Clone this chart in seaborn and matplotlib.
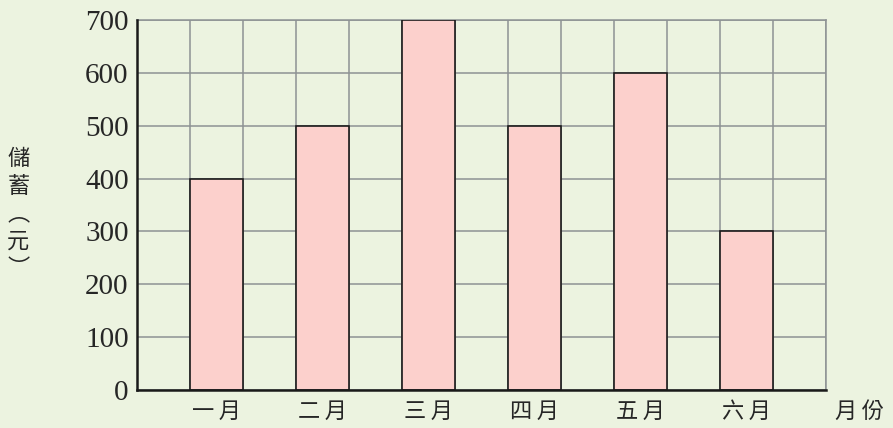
import matplotlib
matplotlib.use("Agg")
import matplotlib.pyplot as plt
import seaborn as sns
import pandas as pd

months = ["一\u2009月", "二\u2009月", "三\u2009月", "四\u2009月", "五\u2009月", "六\u2009月"]
savings = [400, 500, 700, 500, 600, 300]
y_ticks = [0, 100, 200, 300, 400, 500, 600, 700]
y_label = "儲\n蓄\n︵\n元\n︶"
x_label = "月\u2009份"

sns.set_theme(style="white")
plt.rcParams['font.family'] = ['Noto Sans CJK TC', 'DejaVu Sans']

bg = "#ECF3E0"
fig = plt.figure(figsize=(8.93, 4.28), dpi=100, facecolor=bg)
ax = fig.add_axes([137/893, 1-390/428, 689/893, 370/428])
ax.set_facecolor(bg)

pos = [2 * i + 1.5 for i in range(len(months))]
df = pd.DataFrame({"pos": pos, "value": savings, "month": months})
sns.barplot(data=df, x="pos", y="value", native_scale=True, width=0.5,
            color="#FCD0CC", saturation=1, edgecolor="#1a1a1a", linewidth=1.2,
            ax=ax, zorder=3)

ax.set_xlim(0, 13)
ax.set_ylim(0, 700)
ax.set_xticks(range(0, 14))
ax.set_xticklabels([])
ax.set_xticks(pos, minor=True)
ax.set_xticklabels(months, minor=True, fontsize=16)
ax.set_yticks(y_ticks)
ax.set_yticklabels([str(v) for v in y_ticks], family=['Liberation Serif'], fontsize=21)
ax.tick_params(axis='both', which='both', length=0)
ax.tick_params(axis='y', pad=6)
ax.tick_params(axis='x', which='minor', pad=7)
ax.grid(True, which='major', color="#8E9294", linewidth=1.1, zorder=0)
ax.set_axisbelow(True)

for s in ["left", "bottom"]:
    ax.spines[s].set_color("#1a1a1a")
    ax.spines[s].set_linewidth(1.8)
    ax.spines[s].set_zorder(5)
for s in ["top", "right"]:
    ax.spines[s].set_color("#8E9294")
    ax.spines[s].set_linewidth(1.1)

ax.set_xlabel(x_label, fontsize=16)
ax.xaxis.set_label_coords(1.049, -0.058)
ax.xaxis.label.set_va("center")
ax.set_ylabel(y_label, fontsize=16, rotation=0, linespacing=1.25)
ax.yaxis.set_label_coords(-0.172, 0.476)
ax.yaxis.label.set_va("center")
ax.yaxis.label.set_ha("center")

fig.savefig("out.png", dpi=100, facecolor=bg)
